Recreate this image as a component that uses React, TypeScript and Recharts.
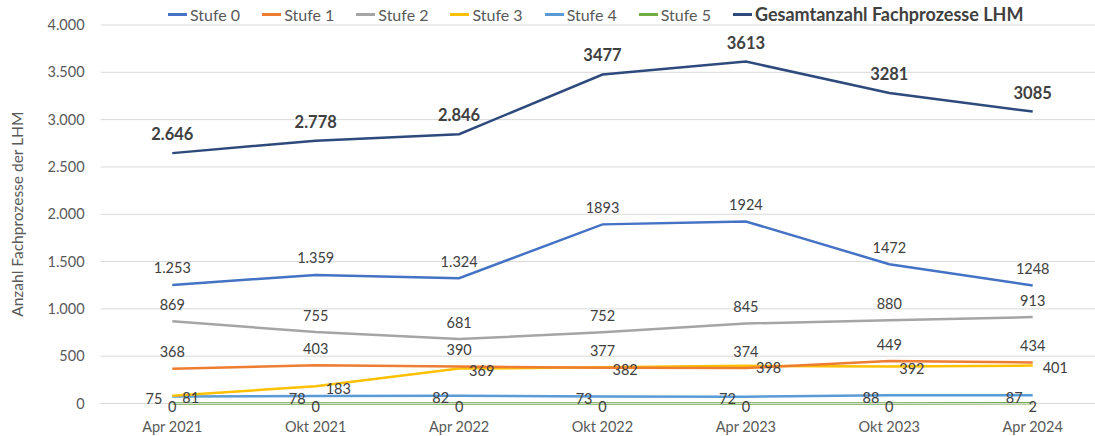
import React from 'react';
import { LineChart, Line, XAxis, YAxis, CartesianGrid, Legend, LabelList } from 'recharts';

const categories = ['Apr 2021', 'Okt 2021', 'Apr 2022', 'Okt 2022', 'Apr 2023', 'Okt 2023', 'Apr 2024'];
const stufe0 = [1253, 1359, 1324, 1893, 1924, 1472, 1248];
const stufe1 = [368, 403, 390, 377, 374, 449, 434];
const stufe2 = [869, 755, 681, 752, 845, 880, 913];
const stufe3 = [81, 183, 369, 382, 398, 392, 401];
const stufe4 = [75, 78, 82, 73, 72, 88, 87];
const stufe5 = [0, 0, 0, 0, 0, 0, 2];
const gesamt = [2646, 2778, 2846, 3477, 3613, 3281, 3085];

const gesamtLabels = ['2.646', '2.778', '2.846', '3477', '3613', '3281', '3085'];
const stufe0Labels = ['1.253', '1.359', '1.324', '1893', '1924', '1472', '1248'];
const yTicks = [0, 500, 1000, 1500, 2000, 2500, 3000, 3500, 4000];

const data = categories.map((c, i) => ({
  cat: c,
  s0: stufe0[i],
  s1: stufe1[i],
  s2: stufe2[i],
  s3: stufe3[i],
  s4: stufe4[i],
  s5: stufe5[i],
  total: gesamt[i],
}));

const FONT = 'Lato, "Noto Sans", sans-serif';

const series = [
  { key: 's0', name: 'Stufe 0', color: '#4472C4' },
  { key: 's1', name: 'Stufe 1', color: '#ED7D31' },
  { key: 's2', name: 'Stufe 2', color: '#A5A5A5' },
  { key: 's3', name: 'Stufe 3', color: '#FFC000' },
  { key: 's4', name: 'Stufe 4', color: '#5B9BD5' },
  { key: 's5', name: 'Stufe 5', color: '#70AD47' },
  { key: 'total', name: 'Gesamtanzahl Fachprozesse LHM', color: '#2E4A7D', bold: true },
];

const fmtDe = (v: number) => String(v).replace(/\B(?=(\d{3})+(?!\d))/g, '.');

const mkLabel = (
  texts: (string | number)[],
  dx: number,
  dy: number,
  anchor: 'start' | 'middle' | 'end',
  size = 14.5,
  weight: number | string = 400
) => (props: any) => {
  const vb = props.viewBox || {};
  const x = props.x ?? vb.x;
  const y = props.y ?? vb.y;
  const i = props.index;
  if (x == null || y == null) return null;
  return (
    <text
      x={x + dx}
      y={y + dy}
      textAnchor={anchor}
      dominantBaseline="central"
      fontSize={size}
      fontWeight={weight}
      fill="#404040"
      fontFamily={FONT}
    >
      {String(texts[i])}
    </text>
  );
};

const LegendContent = () => (
  <div style={{ display: 'flex', alignItems: 'center', height: 22, fontFamily: FONT }}>
    {series.map((s) => (
      <div key={s.key} style={{ display: 'flex', alignItems: 'center', marginRight: s.bold ? 0 : 22 }}>
        <div style={{ width: 19, height: 3, background: s.color, marginRight: 3 }} />
        <span
          style={{
            fontSize: s.bold ? 18 : 16,
            fontWeight: s.bold ? 700 : 400,
            color: s.bold ? '#404040' : '#595959',
            whiteSpace: 'nowrap',
          }}
        >
          {s.name}
        </span>
      </div>
    ))}
  </div>
);

const YTitle = (props: any) => {
  const vb = props.viewBox || {};
  const cx = 17;
  const cy = vb.y + vb.height / 2;
  return (
    <text
      x={cx}
      y={cy}
      transform={`rotate(-90, ${cx}, ${cy})`}
      textAnchor="middle"
      dominantBaseline="central"
      fontSize={15.5}
      fill="#595959"
      fontFamily={FONT}
    >
      Anzahl Fachprozesse der LHM
    </text>
  );
};

export default function App() {
  return (
    <div
      style={{
        position: 'absolute',
        left: 0,
        top: 0,
        width: 1095,
        height: 436,
        overflow: 'hidden',
        background: '#fff',
      }}
    >
      <LineChart
        width={1110}
        height={436}
        data={data}
        margin={{ top: 3, right: 5.6, bottom: 2.5, left: 0 }}
      >
        <CartesianGrid vertical={false} stroke="#D9D9D9" strokeWidth={1} />
        <XAxis
          dataKey="cat"
          scale="band"
          tickLine={false}
          axisLine={{ stroke: '#D9D9D9' }}
          tick={{ fill: '#595959', fontSize: 14.5, fontFamily: FONT }}
          tickMargin={12}
          height={30}
        />
        <YAxis
          width={100.6}
          domain={[0, 4000]}
          ticks={yTicks}
          tickFormatter={fmtDe}
          tickLine={false}
          axisLine={false}
          tickMargin={10}
          tick={{ fill: '#595959', fontSize: 14.5, fontFamily: FONT }}
          label={{ content: YTitle }}
        />
        <Legend
          verticalAlign="top"
          align="left"
          height={22}
          content={LegendContent}
          wrapperStyle={{ left: 168, top: 3, height: 22 }}
        />
        <Line dataKey="s5" name="Stufe 5" stroke="#70AD47" strokeWidth={2.5} dot={false} isAnimationActive={false}>
          <LabelList content={mkLabel(stufe5, 0, 3, 'middle')} />
        </Line>
        <Line dataKey="s4" name="Stufe 4" stroke="#5B9BD5" strokeWidth={2.5} dot={false} isAnimationActive={false}>
          <LabelList content={mkLabel(stufe4, -10, 2, 'end')} />
        </Line>
        <Line dataKey="s3" name="Stufe 3" stroke="#FFC000" strokeWidth={2.5} dot={false} isAnimationActive={false}>
          <LabelList content={mkLabel(stufe3, 10, 2, 'start')} />
        </Line>
        <Line dataKey="s2" name="Stufe 2" stroke="#A5A5A5" strokeWidth={2.5} dot={false} isAnimationActive={false}>
          <LabelList content={mkLabel(stufe2, 0, -17, 'middle')} />
        </Line>
        <Line dataKey="s1" name="Stufe 1" stroke="#ED7D31" strokeWidth={2.5} dot={false} isAnimationActive={false}>
          <LabelList content={mkLabel(stufe1, 0, -17, 'middle')} />
        </Line>
        <Line dataKey="s0" name="Stufe 0" stroke="#4472C4" strokeWidth={2.5} dot={false} isAnimationActive={false}>
          <LabelList content={mkLabel(stufe0Labels, 0, -17, 'middle')} />
        </Line>
        <Line dataKey="total" name="Gesamtanzahl Fachprozesse LHM" stroke="#2E4A7D" strokeWidth={2.5} dot={false} isAnimationActive={false}>
          <LabelList content={mkLabel(gesamtLabels, 0, -19, 'middle', 16.5, 700)} />
        </Line>
      </LineChart>
    </div>
  );
}
